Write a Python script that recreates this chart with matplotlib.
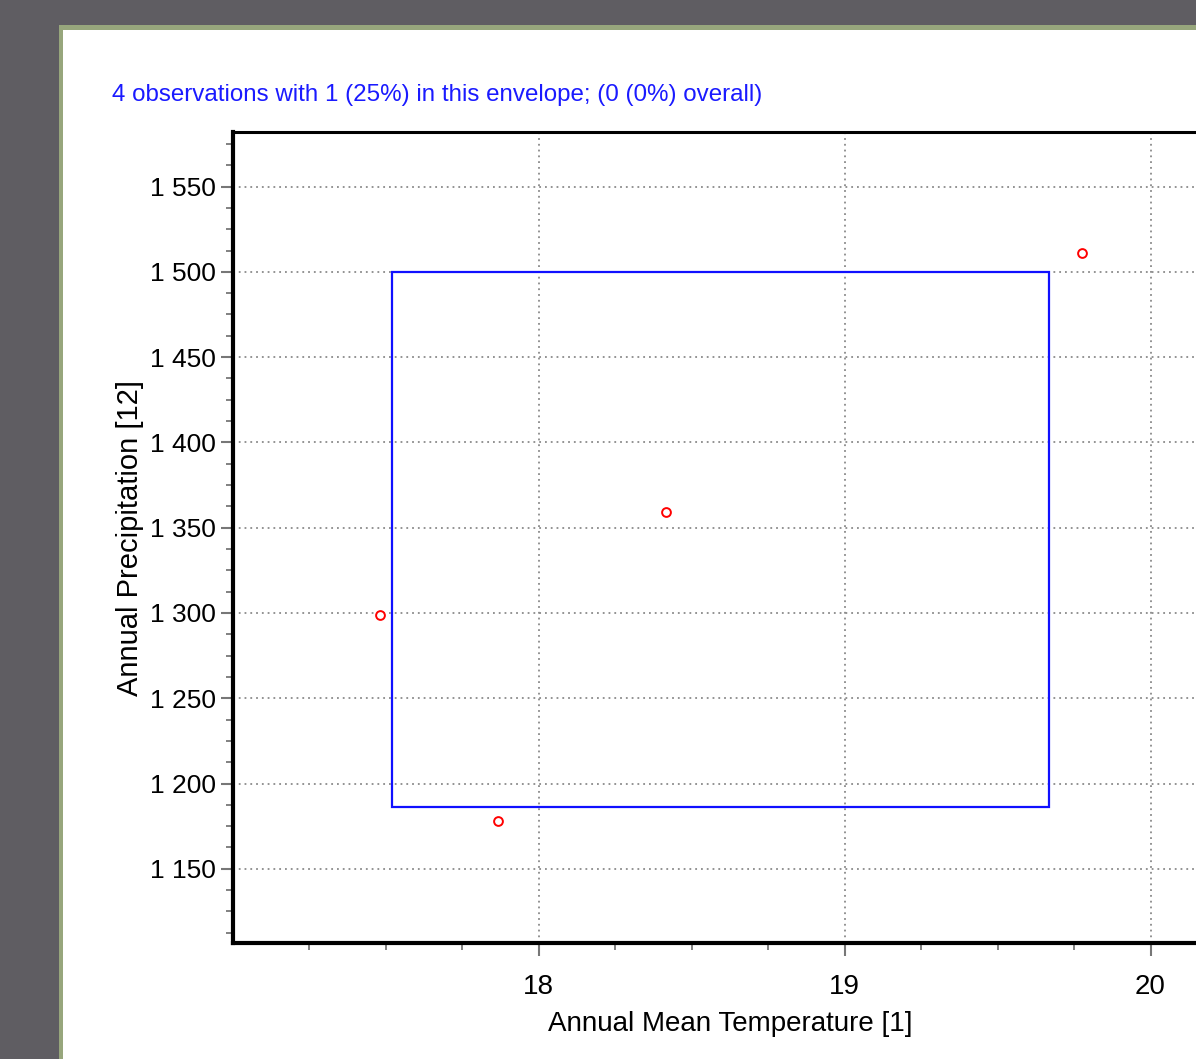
import matplotlib.pyplot as plt
from matplotlib.patches import Rectangle
from matplotlib.ticker import MultipleLocator, FuncFormatter

# данные
temp = [17.48, 17.865, 18.415, 19.775]
precip = [1299, 1178, 1359, 1511]

# границы envelope
env_x = [17.52, 19.667]
env_y = [1186, 1500]

xticks = [18, 19, 20]
title = "4 observations with 1 (25%) in this envelope; (0 (0%) overall)"
xlab = "Annual Mean Temperature [1]"
ylab = "Annual Precipitation [12]"

plt.rcParams['font.family'] = ['Liberation Sans', 'DejaVu Sans']

W, H = 1196, 1059
fig = plt.figure(figsize=(W / 100, H / 100), dpi=100)
fig.patch.set_facecolor('#5f5d62')

# белая панель с зелёной рамкой
fig.patches.append(Rectangle((59 / W, 0), 1.1, (H - 25) / H, transform=fig.transFigure,
                             facecolor='#97a67c', edgecolor='none', zorder=-2))
fig.patches.append(Rectangle((63 / W, 0), 1.1, (H - 30) / H, transform=fig.transFigure,
                             facecolor='white', edgecolor='none', zorder=-1))

ax = fig.add_axes([233 / W, 1 - 943 / H, (1227 - 233) / W, (943 - 132) / H])
ax.set_zorder(1)
ax.set_xlim(17.0, 20.25)
ax.set_ylim(1106.5, 1582)

# envelope
ax.add_patch(Rectangle((env_x[0], env_y[0]), env_x[1] - env_x[0], env_y[1] - env_y[0],
                       fill=False, edgecolor='#1010ff', linewidth=1.6, zorder=3))
ax.scatter(temp, precip, s=40, facecolors='white', edgecolors='red', linewidths=1.4, zorder=4)

ax.set_xticks(xticks)
ax.set_xticks([17.25, 17.5, 17.75, 18.25, 18.5, 18.75, 19.25, 19.5, 19.75], minor=True)
ax.yaxis.set_major_locator(MultipleLocator(50))
ax.yaxis.set_minor_locator(MultipleLocator(12.5))
ax.yaxis.set_major_formatter(FuncFormatter(lambda v, p: f"{int(v):,}".replace(",", " ")))

ax.grid(True, which='major', color='#8a8a8a', linestyle=(0, (1, 2.2)), linewidth=1.3)
ax.set_axisbelow(True)

ax.tick_params(which='major', length=9, width=1.5, color='#777777', labelsize=19)
ax.tick_params(axis='x', which='major', pad=13, labelsize=20)
ax.tick_params(which='minor', length=5, width=1.3, color='#777777')

for s in ['left', 'bottom']:
    ax.spines[s].set_linewidth(3.0)
ax.spines['top'].set_linewidth(2.2)
ax.spines['right'].set_visible(False)

ax.set_xlabel(xlab, fontsize=20, labelpad=8)
ax.set_ylabel(ylab, fontsize=21, labelpad=4)

fig.text(112 / W, 1 - 95 / H, title, color='#1a1aff', fontsize=17.4, va='center', ha='left')

fig.savefig('out.png', dpi=100, facecolor=fig.get_facecolor())
